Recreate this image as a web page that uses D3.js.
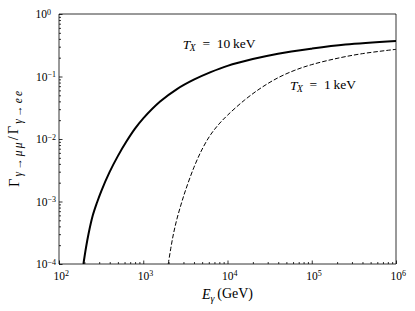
<!DOCTYPE html>
<meta charset="utf-8">
<style>
body { margin: 0; background: #fff; }
svg text { font-family: "Liberation Serif", "DejaVu Serif", serif; fill: #000; }
.curve { fill: none; stroke: #000; }
.axis path { display: none; }
.axis line { stroke: #000; stroke-width: 0.8; }
</style>
<svg id="chart" width="415" height="311"></svg>
<script src="https://d3js.org/d3.v7.min.js"></script>
<script>

// photon energy (GeV) and rate ratio
var energy10 = [195, 209, 224, 251, 282, 316, 398, 501, 631, 794, 1000, 1585, 2512, 3981, 6310, 10000, 19950, 39810, 100000, 251200, 1000000];
var ratio10  = [1e-4, 1.82e-4, 3.02e-4, 5.9e-4, 9.55e-4, 1.445e-3, 2.95e-3, 5.37e-3, 9.1e-3, 0.0145, 0.0214, 0.0398, 0.063, 0.089, 0.1175, 0.148, 0.19, 0.232, 0.279, 0.324, 0.37];

var energy1 = [1980, 2140, 2290, 2510, 2820, 3160, 3980, 5010, 6310, 7940, 10000, 15850, 25120, 39810, 63100, 100000, 199500, 398100, 1000000];
var ratio1  = [1e-4, 1.9e-4, 3.09e-4, 5.25e-4, 9.1e-4, 1.48e-3, 3.47e-3, 6.9e-3, 0.01175, 0.0174, 0.024, 0.0417, 0.066, 0.0955, 0.126, 0.155, 0.195, 0.232, 0.272];

var xTicks = [1e2, 1e3, 1e4, 1e5, 1e6];
var yTicks = [1e-4, 1e-3, 1e-2, 1e-1, 1e0];

var svg = d3.select("#chart"),
    pLeft = 59, pRight = 396, pTop = 14, pBottom = 264;

var x = d3.scaleLog().domain([1e2, 1e6]).range([pLeft, pRight]);
var y = d3.scaleLog().domain([1e-4, 1]).range([pBottom, pTop]);

function minors(ticks) {
  var out = [];
  for (var i = 0; i < ticks.length - 1; i++)
    for (var k = 2; k < 10; k++) out.push(ticks[i] * k);
  return out;
}

svg.append("clipPath").attr("id", "clip")
  .append("rect")
    .attr("x", pLeft).attr("y", pTop)
    .attr("width", pRight - pLeft).attr("height", pBottom - pTop);

// curves
var line = d3.line()
    .x(function(d) { return x(d[0]); })
    .y(function(d) { return y(d[1]); })
    .curve(d3.curveCatmullRom.alpha(0.5));

svg.append("path")
    .datum(d3.zip(energy10, ratio10))
    .attr("class", "curve")
    .attr("clip-path", "url(#clip)")
    .attr("stroke-width", 2)
    .attr("d", line);

svg.append("path")
    .datum(d3.zip(energy1, ratio1))
    .attr("class", "curve")
    .attr("clip-path", "url(#clip)")
    .attr("stroke-width", 1)
    .attr("stroke-dasharray", "4.5,2")
    .attr("d", line);

// axes, ticks pointing inward
function powLabel(sel) {
  sel.each(function(d) {
    var t = d3.select(this).text(null);
    t.append("tspan").text("10");
    t.append("tspan").attr("dy", "-0.45em").attr("font-size", "8px")
      .text(String(Math.round(Math.log10(d))).replace("-", "\u2212"));
  });
}

var gx = svg.append("g").attr("class", "axis")
    .attr("transform", "translate(0," + pBottom + ")");
gx.call(d3.axisBottom(x).tickValues(minors(xTicks)).tickSizeInner(-2).tickSizeOuter(0).tickFormat(""));
var gxm = svg.append("g").attr("class", "axis")
    .attr("transform", "translate(0," + pBottom + ")");
gxm.call(d3.axisBottom(x).tickValues(xTicks).tickSizeInner(-3.5).tickSizeOuter(0).tickPadding(7.5));
gxm.selectAll("text").attr("font-size", "11.5px").attr("dx", "0.15em").call(powLabel);

var gy = svg.append("g").attr("class", "axis")
    .attr("transform", "translate(" + pLeft + ",0)");
gy.call(d3.axisLeft(y).tickValues(minors(yTicks)).tickSizeInner(-2).tickSizeOuter(0).tickFormat(""));
var gym = svg.append("g").attr("class", "axis")
    .attr("transform", "translate(" + pLeft + ",0)");
gym.call(d3.axisLeft(y).tickValues(yTicks).tickSizeInner(-3.5).tickSizeOuter(0).tickPadding(3));
gym.selectAll("text").attr("font-size", "11.5px").call(powLabel)
    .attr("x", function(d) { return d >= 1 ? -8 : -3; });

// frame
svg.append("line").attr("x1", pLeft).attr("x2", pLeft).attr("y1", pTop).attr("y2", pBottom)
    .attr("stroke", "#000").attr("stroke-width", 0.8);
svg.append("line").attr("x1", pLeft).attr("x2", pRight).attr("y1", pBottom).attr("y2", pBottom)
    .attr("stroke", "#000").attr("stroke-width", 0.8);
svg.append("line").attr("x1", pLeft).attr("x2", pRight).attr("y1", pTop).attr("y2", pTop)
    .attr("stroke", "#000").attr("stroke-width", 0.8);
svg.append("line").attr("x1", pRight).attr("x2", pRight).attr("y1", pTop).attr("y2", pBottom)
    .attr("stroke", "#000").attr("stroke-width", 0.8);

// curve labels
function tLabel(px, py, val) {
  var t = svg.append("text").attr("x", px).attr("y", py).attr("font-size", "13.5px");
  t.append("tspan").attr("font-style", "italic").text("T");
  t.append("tspan").attr("font-style", "italic").attr("font-size", "9.5px").attr("dy", "0.25em").attr("dx", "-0.05em").text("X");
  t.append("tspan").attr("dy", "-0.25em").text("\u2002=\u2002" + val + "\u2009keV");
}
tLabel(x(2950), y(0.275), "10");
tLabel(x(55200), y(0.061), "1");

// x label
var xl = svg.append("text")
    .attr("x", (pLeft + pRight) / 2).attr("y", 299)
    .attr("text-anchor", "middle").attr("font-size", "14px");
xl.append("tspan").attr("font-style", "italic").text("E");
xl.append("tspan").attr("font-style", "italic").attr("font-size", "10px").attr("dy", "0.3em").text("\u03b3");
xl.append("tspan").attr("dy", "-0.3em").text("\u2009(GeV)");

// y label
var yl = svg.append("text")
    .attr("transform", "translate(19," + ((pTop + pBottom) / 2) + ") rotate(-90)")
    .attr("text-anchor", "middle").attr("font-size", "14.5px")
    .attr("textLength", 96).attr("lengthAdjust", "spacing");
yl.append("tspan").text("\u0393");
yl.append("tspan").attr("font-size", "11.5px").attr("dy", "0.3em").attr("font-style", "italic").text("\u03b3");
yl.append("tspan").attr("font-size", "11.5px").text("\u2192");
yl.append("tspan").attr("font-size", "11.5px").attr("font-style", "italic").text("\u03bc\u03bc");
yl.append("tspan").attr("dy", "-0.3em").text("/\u0393");
yl.append("tspan").attr("font-size", "11.5px").attr("dy", "0.3em").attr("font-style", "italic").text("\u03b3");
yl.append("tspan").attr("font-size", "11.5px").text("\u2192");
yl.append("tspan").attr("font-size", "11.5px").attr("font-style", "italic").text("ee");

</script>
